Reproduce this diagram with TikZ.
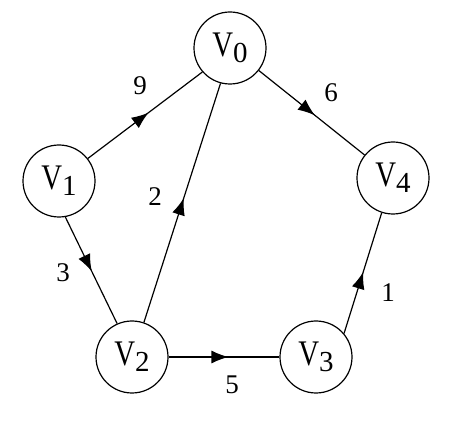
\documentclass[tikz,border=0pt]{standalone}
\usepackage{fontspec}
\setmainfont{Liberation Serif}
\usetikzlibrary{arrows.meta,decorations.markings}
% vertex name: letter v with an upright digit index
\newcommand\vname[1]{\fontsize{36}{36}\selectfont\scalebox{0.8}[1]{V}\raisebox{-6pt}{\fontsize{29}{29}\selectfont #1}}
\begin{document}
\begin{tikzpicture}[x=1pt,y=-1pt,
  vertex/.style={circle,draw,line width=1.2pt,minimum size=72pt,inner sep=0pt},
  edge/.style={line width=1.2pt,postaction={decorate},
    decoration={markings,mark=at position #1 with {\arrow{Latex[length=17pt,width=13pt]}}}},
  edge/.default=0.5,
  weight/.style={font=\fontsize{27}{27}\selectfont,inner sep=0pt}]
\useasboundingbox (0,0) rectangle (472,422);

% vertices
\node[vertex] (v0) at (230,48)  {\vname{0}};
\node[vertex] (v1) at (59,181)  {\vname{1}};
\node[vertex] (v2) at (132,357) {\vname{2}};
\node[vertex] (v3) at (316,357) {\vname{3}};
\node[vertex] (v4) at (393,178) {\vname{4}};

% weighted arcs
\draw[edge=0.53] (v1.38)  -- (v0.221);
\draw[edge=0.53] (v0.-38) -- (v4.141);
\draw[edge=0.51] (v1.-80) -- (v2.114);
\draw[edge=0.52] (v2.71)  -- (v0.255);
\draw[edge=0.54] (v2.0)   -- (v3.180);
\draw[edge=0.51] (v3.40)  -- (v4.252);

% weights
\node[weight] (w10) at (140,86)  {9};
\node[weight] (w04) at (331,93)  {6};
\node[weight] (w12) at (63,273)  {3};
\node[weight] (w20) at (155,197) {2};
\node[weight] (w23) at (232,385) {5};
\node[weight] (w34) at (388,293) {1};
\end{tikzpicture}
\end{document}
